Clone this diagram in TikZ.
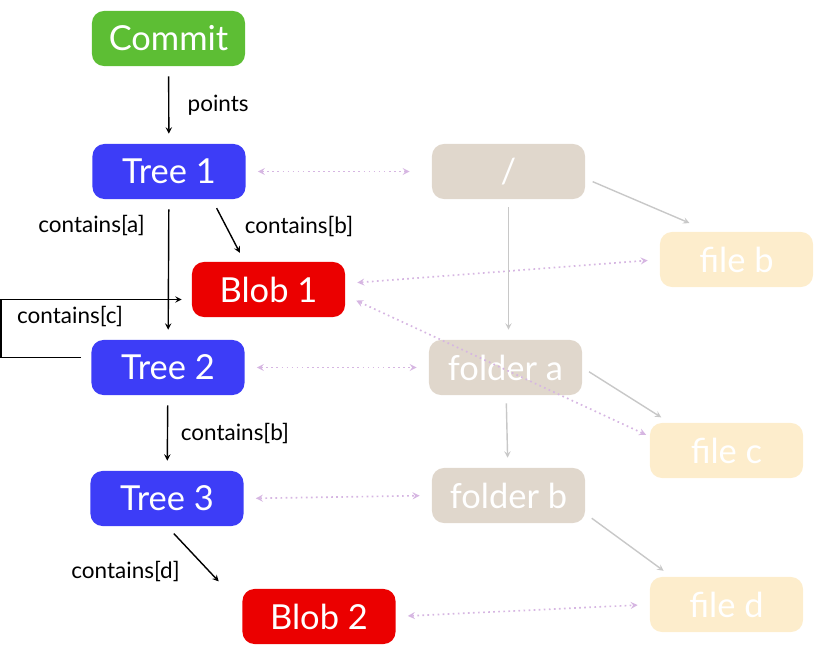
\documentclass[tikz,border=0pt]{standalone}
\usepackage{fontspec}
\setmainfont{Lato}
\usepackage{tikz}
\definecolor{commitgreen}{RGB}{93, 190, 52}
\definecolor{treeblue}{RGB}{61, 61, 247}
\definecolor{blobred}{RGB}{235, 0, 0}
\definecolor{foldergray}{RGB}{224, 215, 204}
\definecolor{filecream}{RGB}{253, 237, 204}
\definecolor{linkpurple}{RGB}{214, 182, 226}
\definecolor{arrowgray}{RGB}{200, 200, 200}

\begin{document}
\begin{tikzpicture}[
        x=0.025cm, y=-0.025cm,
        >=stealth,
        object/.style={rectangle, rounded corners=0.3cm, minimum width=3.825cm, minimum height=1.375cm, text=white, font=\fontsize{24.5}{28}\selectfont},
        commit/.style={object, fill=commitgreen},
        tree/.style={object, fill=treeblue},
        blob/.style={object, fill=blobred},
        folder/.style={object, fill=foldergray},
        file/.style={object, fill=filecream},
        flow/.style={->, line width=1pt, shorten >=0.25cm, shorten <=0.25cm},
        link/.style={<->, line width=1.2pt, dash pattern=on 1.2pt off 2.4pt, color=linkpurple, shorten >=0.3cm, shorten <=0.3cm},
        fsflow/.style={->, line width=1pt, color=arrowgray, shorten >=0.25cm, shorten <=0.2cm},
        lbl/.style={font=\fontsize{16}{19}\selectfont, inner sep=1pt}
    ]
    
    % Frame
    \useasboundingbox (0,0) rectangle (838,671);
    
    % Git objects
    \node[commit] (commit) at (168.5, 38.5) {Commit};
    \node[tree] (tree1) at (169, 171.5) {Tree 1};
    \node[blob] (blob1) at (268.5, 289.5) {Blob 1};
    \node[tree] (tree2) at (168, 367.5) {Tree 2};
    \node[tree] (tree3) at (167, 498.5) {Tree 3};
    \node[blob] (blob2) at (319, 616.5) {Blob 2};
    
    % File system
    \node[folder] (root) at (508.5, 171.5) {/};
    \node[folder] (foldera) at (505.5, 367.5) {folder a};
    \node[folder] (folderb) at (508.5, 495.5) {folder b};
    \node[file] (fileb) at (736.5, 259.5) {file b};
    \node[file] (filec) at (726.5, 450.5) {file c};
    \node[file] (filed) at (726.5, 604.5) {file d};
    
    % Object references
    \draw[flow] (commit) -- node[lbl, right=0.42cm] {points} (tree1);
    \draw[flow] (tree1) -- node[lbl, left=0.55cm, pos=0.19] {contains[a]} (tree2);
    \draw[flow] ([xshift=1.075cm]tree1.south) -- node[lbl, right=0.42cm, pos=0.43] {contains[b]} ([xshift=-0.6cm]blob1.north);
    \draw[flow] ([yshift=0.25cm]tree2.west) -- ++(-90, 0) |- ([yshift=-0.25cm]blob1.west);
    \node[lbl] (lblc) at (70, 316) {contains[c]};
    \draw[flow] (tree2) -- node[lbl, right=0.28cm] {contains[b]} (tree3);
    \draw[flow] (tree3.south) -- node[lbl, left=0.7cm, pos=0.73] {contains[d]} ([xshift=-2.335cm]blob2.north);
    
    % Matching links
    \draw[link, shorten >=0.55cm] (tree1.east) -- (root.west);
    \draw[link] (tree2.east) -- (foldera.west);
    \draw[link] (tree3.east) -- (folderb.west);
    \draw[link] ([yshift=0.15cm]blob1.east) -- (fileb.west);
    \draw[link, shorten >=0.1cm] ([yshift=-0.15cm]blob1.east) -- ([yshift=0.35cm]filec.west);
    \draw[link] (blob2.east) -- (filed.west);
    
    % Folder contents
    \draw[fsflow, shorten >=0.55cm] ([yshift=-0.175cm]root.east) -- ([xshift=1.25cm]fileb.north west);
    \draw[fsflow] (root) -- (root |- foldera.north);
    \draw[fsflow] (foldera.east) -- ([xshift=0.5cm]filec.north west);
    \draw[fsflow] (foldera) -- (folderb);
    \draw[fsflow] ([yshift=-0.45cm]folderb.east) -- ([xshift=0.55cm]filed.north west);
    
\end{tikzpicture}
\end{document}
